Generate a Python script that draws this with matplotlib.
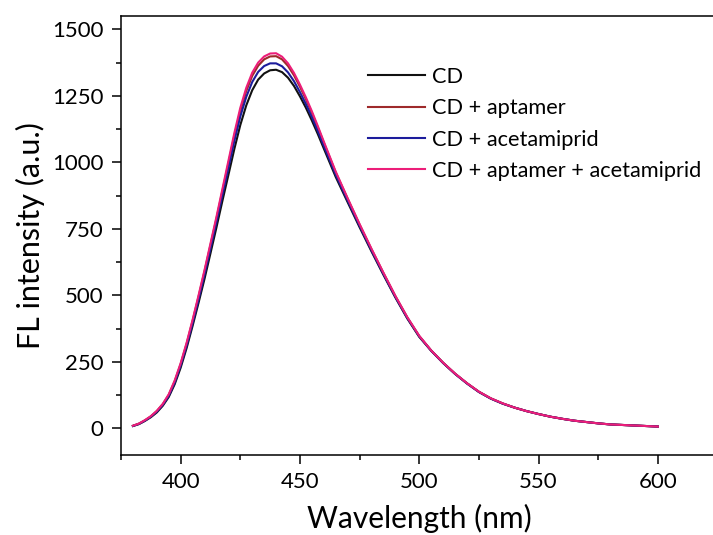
import matplotlib
matplotlib.use('Agg')
import matplotlib.pyplot as plt
from matplotlib.ticker import MultipleLocator

plt.rcParams['font.family'] = ['Lato', 'DejaVu Sans']

# comprimento de onda (nm): passo de 2.5 nm ate 460, depois 5 nm
wavelength = [380, 382.5, 385, 387.5, 390, 392.5, 395, 397.5, 400,
              402.5, 405, 407.5, 410, 412.5, 415, 417.5, 420,
              422.5, 425, 427.5, 430, 432.5, 435, 437.5, 440,
              442.5, 445, 447.5, 450, 452.5, 455, 457.5, 460,
              465, 470, 475, 480, 485, 490, 495, 500, 505, 510, 515,
              520, 525, 530, 535, 540, 545, 550, 555, 560, 565, 570,
              575, 580, 585, 590, 595, 600]

cd = [9, 16, 28, 42, 60, 85, 118, 166, 228,
      302, 385, 472, 562, 658, 755, 855, 952,
      1050, 1140, 1214, 1271, 1311, 1334, 1346, 1348,
      1339, 1318, 1287, 1248, 1205, 1157, 1106, 1052,
      945, 850, 756, 665, 577, 492, 413, 344, 292, 246, 205,
      169, 137, 112, 93, 78, 65, 54, 44, 36, 29, 24,
      19, 15, 13, 11, 9, 7]

cd_aptamer = [10, 18, 30, 45, 65, 91, 126, 177, 242,
              318, 404, 495, 590, 689, 788, 892, 995,
              1100, 1193, 1268, 1325, 1363, 1387, 1398, 1399,
              1387, 1362, 1327, 1284, 1237, 1186, 1131, 1074,
              962, 863, 766, 673, 584, 497, 417, 347, 293, 247, 206,
              170, 138, 113, 94, 78, 65, 54, 44, 36, 29, 24,
              19, 15, 13, 11, 9, 7]

cd_acetamiprid = [9, 17, 29, 44, 63, 88, 122, 172, 236,
                  311, 395, 484, 578, 676, 775, 877, 978,
                  1080, 1172, 1246, 1302, 1340, 1362, 1372, 1372,
                  1361, 1338, 1305, 1264, 1219, 1170, 1117, 1062,
                  953, 856, 761, 669, 580, 494, 415, 346, 292, 246, 205,
                  169, 137, 112, 93, 78, 65, 54, 44, 36, 29, 24,
                  19, 15, 13, 11, 9, 7]

cd_aptamer_acetamiprid = [10, 18, 31, 46, 66, 92, 128, 180, 245,
                          322, 408, 500, 595, 695, 795, 900, 1005,
                          1110, 1205, 1280, 1337, 1375, 1398, 1409, 1410,
                          1397, 1372, 1336, 1292, 1244, 1192, 1136, 1078,
                          965, 865, 768, 675, 585, 498, 418, 348, 293, 247, 206,
                          170, 138, 113, 94, 78, 65, 54, 44, 36, 29, 24,
                          19, 15, 13, 11, 9, 7]

labels = ['CD', 'CD + aptamer', 'CD + acetamiprid', 'CD + aptamer + acetamiprid']
colors = ['#111111', '#9e2a2b', '#1c1c9c', '#ec1e79']
series = [cd, cd_aptamer, cd_acetamiprid, cd_aptamer_acetamiprid]

fig = plt.figure(figsize=(7.13, 5.35), dpi=100)
ax = fig.add_axes([0.1697, 0.1495, 0.8366, 0.8206])

for y, c, lab in zip(series, colors, labels):
    ax.plot(wavelength, y, color=c, lw=1.5, label=lab)

ax.set_xlim(375, 625)
ax.set_ylim(-100, 1550)
ax.xaxis.set_major_locator(MultipleLocator(50))
ax.xaxis.set_minor_locator(MultipleLocator(25))
ax.yaxis.set_major_locator(MultipleLocator(250))
ax.yaxis.set_minor_locator(MultipleLocator(125))

ax.spines['right'].set_visible(False)
for s in ax.spines.values():
    s.set_linewidth(1.1)
ax.tick_params(which='both', direction='out', width=1.1, labelsize=16,
               top=False, right=False)
ax.tick_params(which='major', length=6.5, pad=6)
ax.tick_params(which='minor', length=3.6)
ax.tick_params(axis='x', which='major', pad=6)

ax.set_xlabel('Wavelength (nm)', fontsize=21.5, labelpad=8)
ax.set_ylabel('FL intensity (a.u.)', fontsize=22, labelpad=5)

ax.legend(loc='upper left', bbox_to_anchor=(368 / 713, 1 - 67 / 535),
          bbox_transform=fig.transFigure, frameon=False, fontsize=15.7,
          handlelength=2.6, handletextpad=0.35, labelspacing=0.52,
          borderaxespad=0, borderpad=0)

fig.savefig('out.png', dpi=100)
